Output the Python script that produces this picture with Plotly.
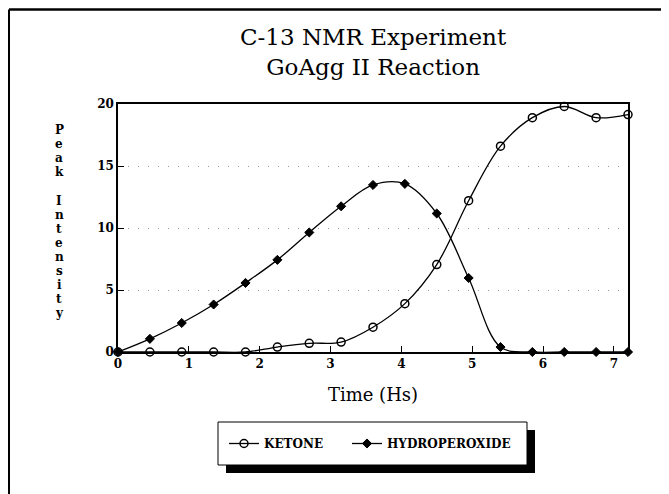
import plotly.graph_objects as go

time_hs = [0, 0.45, 0.9, 1.35, 1.8, 2.25, 2.7, 3.15, 3.6, 4.05, 4.5, 4.95, 5.4, 5.85, 6.3, 6.75, 7.2]
ketone = [0, 0, 0, 0, 0, 0.4, 0.7, 0.8, 2.0, 3.9, 7.05, 12.2, 16.6, 18.9, 19.8, 18.9, 19.15]
hydroperoxide = [0, 1.06, 2.34, 3.83, 5.57, 7.43, 9.64, 11.75, 13.47, 13.56, 11.17, 5.97, 0.4, 0, 0, 0, 0]
x_ticks = [0, 1, 2, 3, 4, 5, 6, 7]
y_ticks = [0, 5, 10, 15, 20]
y_title = "Peak Intensity"

# page body has an 8px margin; figure sized so its right/bottom edges meet the window
OFF = 8
WIN_W, WIN_H = 669, 494
W, H = WIN_W - OFF, WIN_H - OFF
# plot area in window pixels
PX0, PX1, PY0, PY1 = 118, 628, 104, 352
L, R, T, B = PX0 - OFF, WIN_W - PX1, PY0 - OFF, WIN_H - PY1
PW, PH = PX1 - PX0, PY1 - PY0


def px(x):
    return (x - PX0) / PW


def py(y):
    return (PY1 - y) / PH


serif = "DejaVu Serif"

fig = go.Figure()
fig.add_trace(go.Scatter(
    x=time_hs, y=ketone, name="KETONE", mode="lines+markers", legend="legend",
    line=dict(color="black", width=1.3, shape="spline", smoothing=1.0),
    marker=dict(symbol="circle-open", size=8, color="black", line=dict(width=1.5)),
    cliponaxis=False,
))
fig.add_trace(go.Scatter(
    x=time_hs, y=hydroperoxide, name="HYDROPEROXIDE", mode="lines+markers", legend="legend2",
    line=dict(color="black", width=1.3, shape="spline", smoothing=1.0),
    marker=dict(symbol="diamond", size=7, color="black", line=dict(width=1, color="black")),
    cliponaxis=False,
))

axis_common = dict(
    showline=True, linecolor="black", linewidth=1.5, mirror=True,
    ticks="inside", ticklen=6, tickcolor="black", tickwidth=1.2,
    tickfont=dict(family=serif, size=12, color="black", weight="bold"),
    zeroline=False,
)

fig.update_xaxes(
    range=[0, 7.2], tickvals=x_ticks, showgrid=False,
    title=dict(text="Time (Hs)", font=dict(family=serif, size=18, color="black"), standoff=18),
    **axis_common,
)
fig.update_yaxes(
    range=[0, 20], tickvals=y_ticks, showgrid=True,
    gridcolor="#9a9a9a", gridwidth=1, griddash="1px,9px",
    **axis_common,
)

# title
fig.add_annotation(
    text="C-13 NMR Experiment<br>GoAgg II Reaction", xref="paper", yref="paper",
    x=0.5, y=py(52), xanchor="center", yanchor="middle", showarrow=False,
    font=dict(family=serif, size=23, color="black"),
)

# vertical y title, one letter per row
y_start, y_step = 17.9, 1.137
for i, ch in enumerate(y_title):
    if ch == " ":
        continue
    fig.add_annotation(
        text=ch, xref="paper", yref="y", x=px(59), y=y_start - i * y_step,
        xanchor="center", yanchor="middle", showarrow=False,
        font=dict(family=serif, size=12, color="black", weight="bold"),
    )

# outer frame lines (top and left)
fig.add_shape(type="line", xref="paper", yref="paper", x0=px(9), x1=px(WIN_W + 2), y0=py(9.5), y1=py(9.5),
              line=dict(color="black", width=2.5))
fig.add_shape(type="line", xref="paper", yref="paper", x0=px(9), x1=px(9), y0=py(9.5), y1=py(WIN_H + 2),
              line=dict(color="black", width=2))

# legend box with drop shadow
lx0, lx1, ly0, ly1 = 218, 527, 422, 465
sh = 8
fig.add_shape(type="rect", xref="paper", yref="paper", x0=px(lx0 + sh), x1=px(lx1 + sh),
              y0=py(ly0 + sh), y1=py(ly1 + sh), fillcolor="black", line=dict(width=0))
fig.add_shape(type="rect", xref="paper", yref="paper", x0=px(lx0), x1=px(lx1),
              y0=py(ly0), y1=py(ly1), fillcolor="white", line=dict(color="black", width=1))

legend_style = dict(
    orientation="h", xanchor="left", y=py((ly0 + ly1) / 2), yanchor="middle",
    bgcolor="rgba(0,0,0,0)", borderwidth=0,
    font=dict(family=serif, size=12, color="black", weight="bold"),
)

fig.update_layout(
    width=W, height=H, margin=dict(l=L, r=R, t=T, b=B, autoexpand=False),
    paper_bgcolor="white", plot_bgcolor="white",
    showlegend=True,
    legend=dict(x=px(224), **legend_style),
    legend2=dict(x=px(347), **legend_style),
)

fig.write_html("out.html")
